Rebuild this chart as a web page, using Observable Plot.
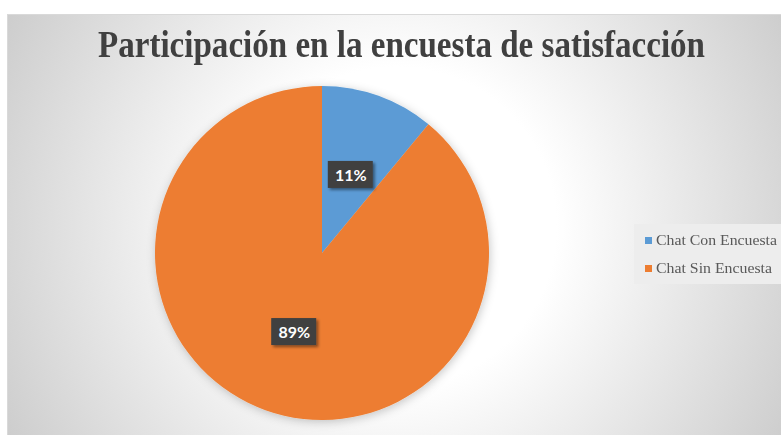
<!DOCTYPE html>
<html><head><meta charset="utf-8">
<script src="https://cdn.jsdelivr.net/npm/d3@7"></script>
<script src="https://cdn.jsdelivr.net/npm/@observablehq/plot@0.6"></script>
<style>
body{margin:0;background:#fff;}
#wrap{position:relative;width:781px;height:435px;overflow:hidden;background:#fff;}
#frame{position:absolute;left:7px;top:14px;width:780px;height:425px;box-sizing:border-box;border:1px solid #d9d9d9;
  background:radial-gradient(circle farthest-corner at 50% 50%, #ffffff 0%, #ffffff 36%, #cdcdcd 100%);}
#chart{position:absolute;left:0;top:0;}
#title{position:absolute;left:90px;top:10px;font-family:"Liberation Serif",serif;font-weight:bold;font-size:38px;line-height:1;color:#404040;white-space:nowrap;transform-origin:0 0;}
#legend{position:absolute;left:626px;top:209px;width:160px;height:60px;background:#ededed;}
.li{position:absolute;left:11px;white-space:nowrap;font-family:"Liberation Serif",serif;font-size:15px;line-height:1;color:#595959;}
.sw{position:absolute;width:7px;height:7px;}
.lt{position:absolute;left:11px;top:0;transform-origin:0 0;}
</style>
</head><body>
<div id="wrap"><div id="frame">
  <div id="chart"></div>
  <div id="title"></div>
  <div id="legend"></div>
</div></div>
<script>
const categories = ["Chat Con Encuesta", "Chat Sin Encuesta"];
const shares = [11, 89];
const labels = ["11%", "89%"];
const colors = ["#5B9BD5", "#ED7D31"];
const titleText = "Participación en la encuesta de satisfacción";

// layout (frame coordinates)
const W = 773, H = 420, CX = 314, CY = 238, R = 167;

const data = categories.map((c, i) => ({category: c, value: shares[i], label: labels[i], color: colors[i]}));
const arcs = d3.pie().sort(null).value(d => d.value)(data);
const labelPts = arcs.map(a => {
  const m = (a.startAngle + a.endAngle) / 2;
  return {...a.data, x: 0.5 * Math.sin(m), y: 0.5 * Math.cos(m)};
});

function pieMark(index, scales, values, dims, context) {
  const cx = scales.x(0), cy = scales.y(0), r = scales.x(1) - scales.x(0);
  const g = d3.create("svg:g");
  const defs = g.append("defs");
  defs.append("filter").attr("id", "pieShadow").attr("x", "-20%").attr("y", "-20%").attr("width", "140%").attr("height", "140%")
    .append("feDropShadow").attr("dx", 1).attr("dy", 2).attr("stdDeviation", 5).attr("flood-color", "#000").attr("flood-opacity", 0.22);
  defs.append("filter").attr("id", "boxShadow").attr("x", "-30%").attr("y", "-30%").attr("width", "160%").attr("height", "160%")
    .append("feDropShadow").attr("dx", 2).attr("dy", 2).attr("stdDeviation", 1.5).attr("flood-color", "#000").attr("flood-opacity", 0.45);
  const arc = d3.arc().innerRadius(0).outerRadius(r);
  g.append("g").attr("transform", `translate(${cx},${cy})`).attr("filter", "url(#pieShadow)")
    .selectAll("path").data(arcs).join("path")
    .attr("d", arc).attr("fill", d => d.data.color);
  g.append("g").selectAll("rect").data(labelPts).join("rect")
    .attr("x", d => scales.x(d.x) - 22.5).attr("y", d => scales.y(d.y) - 13.5)
    .attr("width", 45).attr("height", 27).attr("fill", "#404040").attr("filter", "url(#boxShadow)");
  return g.node();
}

const plot = Plot.plot({
  width: W, height: H, margin: 0,
  style: {background: "transparent", overflow: "visible"},
  x: {domain: [-CX / R, (W - CX) / R], range: [0, W], axis: null},
  y: {domain: [(CY - H) / R, CY / R], range: [H, 0], axis: null},
  marks: [
    pieMark,
    Plot.text(labelPts, {x: "x", y: "y", text: "label", fill: "#ffffff", fontWeight: "bold", fontSize: 16,
      fontFamily: "Lato, 'Noto Sans', sans-serif", dy: 1})
  ]
});
document.getElementById("chart").appendChild(plot);

// title
const t = document.getElementById("title");
t.textContent = titleText;
const tw = t.getBoundingClientRect().width;
t.style.transform = `scaleX(${607 / tw})`;

// legend
const lg = d3.select("#legend");
const legendWidths = [121, 116];
categories.forEach((c, i) => {
  const row = lg.append("div").attr("class", "li").style("top", `${9 + i * 28}px`).style("left", "0px").style("width", "160px").style("height", "16px");
  row.append("div").attr("class", "sw").style("left", "11px").style("top", "4px").style("background", colors[i]);
  const txt = row.append("div").attr("class", "lt").style("left", "22px").text(c);
  const w = txt.node().getBoundingClientRect().width;
  txt.style("transform", `scaleX(${legendWidths[i] / w})`);
});
</script>
</body></html>
